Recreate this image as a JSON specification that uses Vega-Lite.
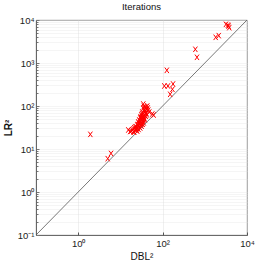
{
  "$schema": "https://vega.github.io/schema/vega-lite/v6.json",
  "autosize": {"type": "none"},
  "width": 211,
  "height": 215,
  "padding": {"left": 36, "top": 20, "right": 26, "bottom": 38},
  "background": "white",
  "config": {
    "view": {"stroke": "#777", "strokeWidth": 0.8},
    "font": "Liberation Sans"
  },
  "title": {"text": "Iterations", "fontSize": 9.5, "fontWeight": "normal", "font": "Liberation Sans", "color": "#111", "offset": 4},
  "datasets": {
    "pts": [
      {"dbl": 1.94, "lr": 21.9}, {"dbl": 5.0, "lr": 5.96}, {"dbl": 6.0, "lr": 7.9},
      {"dbl": 15.4, "lr": 27.7}, {"dbl": 18.1, "lr": 26.2}, {"dbl": 20.2, "lr": 29.2},
      {"dbl": 21.3, "lr": 24.8}, {"dbl": 22.5, "lr": 32.5}, {"dbl": 23.8, "lr": 27.7},
      {"dbl": 25.1, "lr": 36.2}, {"dbl": 25.1, "lr": 30.8}, {"dbl": 26.5, "lr": 42.5},
      {"dbl": 26.5, "lr": 34.3}, {"dbl": 28.0, "lr": 47.2}, {"dbl": 28.0, "lr": 38.1},
      {"dbl": 29.6, "lr": 52.6}, {"dbl": 29.6, "lr": 42.5}, {"dbl": 31.3, "lr": 61.8},
      {"dbl": 31.3, "lr": 49.9}, {"dbl": 33.0, "lr": 72.4}, {"dbl": 33.0, "lr": 55.5},
      {"dbl": 34.9, "lr": 89.7}, {"dbl": 34.9, "lr": 111}, {"dbl": 36.8, "lr": 80.7},
      {"dbl": 38.9, "lr": 94.8}, {"dbl": 41.1, "lr": 85.2}, {"dbl": 43.4, "lr": 100},
      {"dbl": 45.8, "lr": 80.7}, {"dbl": 48.4, "lr": 72.4}, {"dbl": 57.0, "lr": 65.2},
      {"dbl": 61.2, "lr": 61.7}, {"dbl": 34.9, "lr": 47.2}, {"dbl": 36.8, "lr": 61.8},
      {"dbl": 38.9, "lr": 68}, {"dbl": 23.8, "lr": 32.5}, {"dbl": 19.2, "lr": 27.7},
      {"dbl": 28.0, "lr": 32.5}, {"dbl": 31.3, "lr": 38.1}, {"dbl": 33.0, "lr": 44.7},
      {"dbl": 36.8, "lr": 52.6}, {"dbl": 41.0, "lr": 68}, {"dbl": 21.3, "lr": 31},
      {"dbl": 25.1, "lr": 26}, {"dbl": 29.6, "lr": 30.8},
      {"dbl": 24.0, "lr": 29.5}, {"dbl": 27.0, "lr": 28.5}, {"dbl": 30.5, "lr": 35.0},
      {"dbl": 32.0, "lr": 41.0}, {"dbl": 34.0, "lr": 51.0}, {"dbl": 35.5, "lr": 57.0},
      {"dbl": 37.5, "lr": 72.0}, {"dbl": 39.5, "lr": 78.0}, {"dbl": 30.0, "lr": 56.0},
      {"dbl": 32.5, "lr": 66.0}, {"dbl": 27.5, "lr": 40.0}, {"dbl": 29.0, "lr": 45.5},
      {"dbl": 26.0, "lr": 37.0}, {"dbl": 22.8, "lr": 28.0}, {"dbl": 35.8, "lr": 40.5},
      {"dbl": 38.0, "lr": 48.0}, {"dbl": 40.0, "lr": 58.0}, {"dbl": 42.5, "lr": 62.0},
      {"dbl": 31.8, "lr": 34.0}, {"dbl": 33.8, "lr": 37.5}, {"dbl": 36.0, "lr": 98.0},
      {"dbl": 44.5, "lr": 90.0}, {"dbl": 17.0, "lr": 25.5}, {"dbl": 20.5, "lr": 25.0},
      {"dbl": 110, "lr": 292}, {"dbl": 134, "lr": 292}, {"dbl": 126, "lr": 676},
      {"dbl": 177, "lr": 325}, {"dbl": 171, "lr": 245}, {"dbl": 151, "lr": 187},
      {"dbl": 597, "lr": 2080}, {"dbl": 653, "lr": 1356}, {"dbl": 1812, "lr": 3954},
      {"dbl": 2140, "lr": 4330}, {"dbl": 3170, "lr": 7930}, {"dbl": 3530, "lr": 7600},
      {"dbl": 3800, "lr": 6640}, {"dbl": 3650, "lr": 7200}
    ],
    "diag": [{"dbl": 0.1, "lr": 0.1}, {"dbl": 10000, "lr": 10000}]
  },
  "layer": [
    {
      "data": {"name": "diag"},
      "mark": {"type": "line", "color": "#555", "strokeWidth": 0.8, "clip": true},
      "encoding": {
        "x": {"field": "dbl", "type": "quantitative", "scale": {"type": "log", "domain": [0.1, 10000], "nice": false},
          "axis": {
            "values": [1, 100, 10000],
            "title": "DBL²", "titleFont": "Liberation Sans", "titleFontSize": 10, "titleFontWeight": "normal", "titleColor": "#111", "titlePadding": 4,
            "labelExpr": "datum.value == 1 ? '10⁰' : datum.value == 100 ? '10²' : '10⁴'",
            "labelFontSize": 9.5, "labelColor": "#222", "labelPadding": 6, "labelFlush": false,
            "domainColor": "#555", "domainWidth": 0.8,
            "tickColor": "#555", "tickSize": -3,
            "grid": true, "gridColor": "#ccc", "gridDash": [1, 1], "gridWidth": 0.6
          }},
        "y": {"field": "lr", "type": "quantitative", "scale": {"type": "log", "domain": [0.1, 10000], "nice": false},
          "axis": {
            "values": [0.1,0.2,0.3,0.4,0.5,0.6,0.7,0.8,0.9,1,2,3,4,5,6,7,8,9,10,20,30,40,50,60,70,80,90,100,200,300,400,500,600,700,800,900,1000,2000,3000,4000,5000,6000,7000,8000,9000,10000],
            "title": "LR²", "titleFont": "Liberation Sans", "titleFontSize": 10, "titleFontWeight": "bold", "titleColor": "#111", "titlePadding": 4,
            "labelExpr": "datum.value == 0.1 ? '10⁻¹' : datum.value == 1 ? '10⁰' : datum.value == 10 ? '10¹' : datum.value == 100 ? '10²' : datum.value == 1000 ? '10³' : datum.value == 10000 ? '10⁴' : ''",
            "labelFontSize": 9.5, "labelColor": "#222", "labelPadding": 5, "labelFlush": false, "labelOverlap": false,
            "domainColor": "#555", "domainWidth": 0.8,
            "tickColor": "#777",
            "tickSize": {"condition": {"test": "datum.value == 0.1 || datum.value == 1 || datum.value == 10 || datum.value == 100 || datum.value == 1000 || datum.value == 10000", "value": -3}, "value": -2},
            "grid": true, "gridColor": "#ddd", "gridDash": [1, 1], "gridWidth": 0.6
          }}
      }
    },
    {
      "data": {"name": "pts"},
      "mark": {"type": "point", "shape": "M-0.75,-1L0.75,1M-0.75,1L0.75,-1", "filled": false, "color": "#ff0000", "strokeWidth": 1, "size": 30, "opacity": 1, "clip": true},
      "encoding": {
        "x": {"field": "dbl", "type": "quantitative"},
        "y": {"field": "lr", "type": "quantitative"}
      }
    }
  ]
}
